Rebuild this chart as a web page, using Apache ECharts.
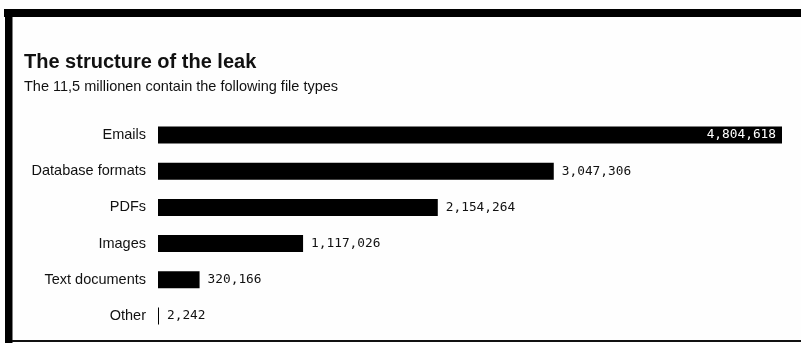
<!DOCTYPE html>
<html>
<head>
<meta charset="utf-8">
<script src="https://cdn.jsdelivr.net/npm/echarts@6/dist/echarts.min.js"></script>
<style>
html,body{margin:0;padding:0;background:#fff;}
#c{width:801px;height:343px;}
</style>
</head>
<body>
<div id="c"></div>
<script>
const titleText = 'The structure of the leak';
const subtitleText = 'The 11,5 millionen contain the following file types';
const categories = ['Emails', 'Database formats', 'PDFs', 'Images', 'Text documents', 'Other'];
const fileCounts = [4804618, 3047306, 2154264, 1117026, 320166, 2242];

const fmt = v => v.toLocaleString('en-US');
const chart = echarts.init(document.getElementById('c'), null, {renderer: 'canvas'});
chart.setOption({
  backgroundColor: '#fefefe',
  animation: false,
  title: [
    {text: titleText, left: 19, top: 47, textStyle: {fontFamily: 'Liberation Sans', fontWeight: 'bold', fontSize: 20, color: '#111'}},
    {text: subtitleText, left: 19, top: 74, textStyle: {fontFamily: 'Liberation Sans', fontWeight: 'normal', fontSize: 14.5, color: '#111'}}
  ],
  graphic: [
    {type: 'rect', shape: {x: 4, y: 9, width: 797, height: 8}, style: {fill: '#000'}},
    {type: 'rect', shape: {x: 5, y: 9, width: 7.5, height: 334}, style: {fill: '#000'}},
    {type: 'rect', shape: {x: 12, y: 340, width: 789, height: 2}, style: {fill: '#111'}}
  ],
  grid: {left: 158, right: 19, top: 117, bottom: 9, containLabel: false},
  xAxis: {type: 'value', min: 0, max: 4804618, show: false},
  yAxis: {
    type: 'category', data: categories, inverse: true,
    axisLine: {show: false}, axisTick: {show: false},
    axisLabel: {margin: 12, fontFamily: 'Liberation Sans', fontSize: 14.5, color: '#111'}
  },
  series: [{
    type: 'bar',
    data: fileCounts.map((v, i) => i === 0 ? {value: v, label: {position: 'insideRight', color: '#fff', distance: 6}} : v),
    barWidth: 17,
    barMinHeight: 1,
    itemStyle: {color: '#000'},
    label: {
      show: true, position: 'right', distance: 8,
      fontFamily: 'DejaVu Sans Mono', fontSize: 12.8, color: '#111',
      formatter: p => fmt(p.value)
    }
  }]
});
</script>
</body>
</html>
